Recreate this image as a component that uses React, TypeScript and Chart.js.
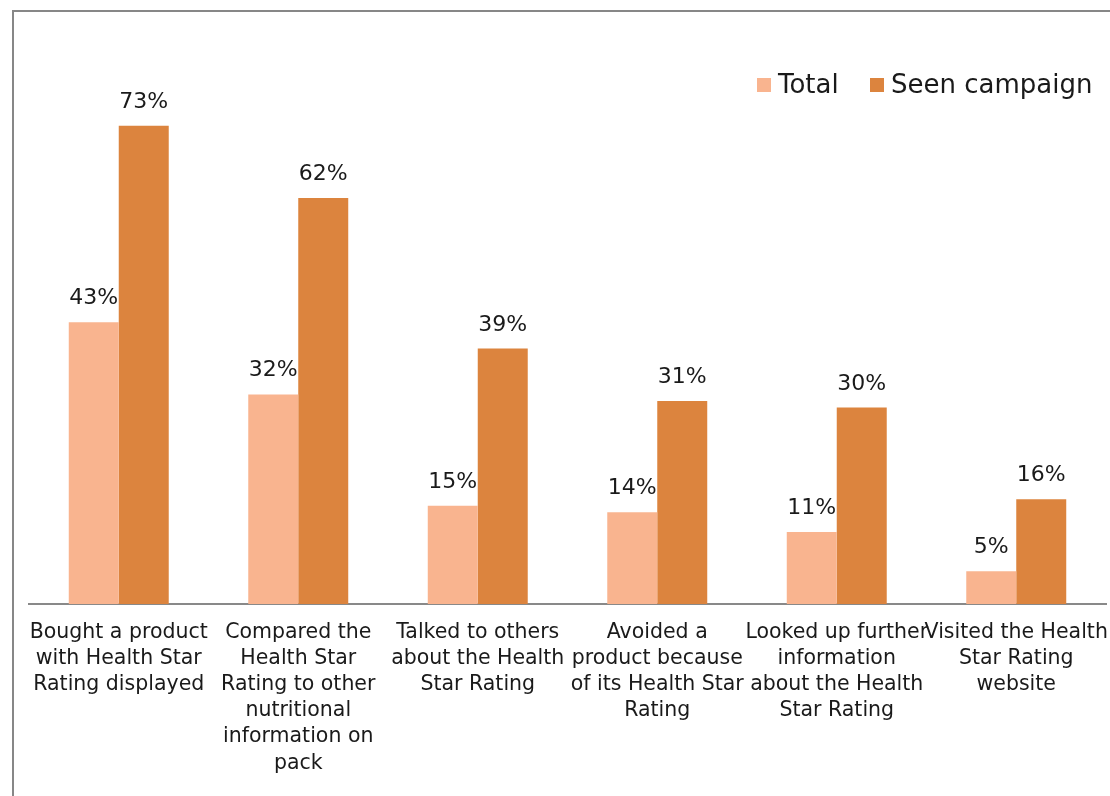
import React, { useEffect, useRef } from "react";
import { Chart, registerables } from "chart.js";

Chart.register(...registerables);

const categories: string[][] = [
  ["Bought a product", "with Health Star", "Rating displayed"],
  ["Compared the", "Health Star", "Rating to other", "nutritional", "information on", "pack"],
  ["Talked to others", "about the Health", "Star Rating"],
  ["Avoided a", "product because", "of its Health Star", "Rating"],
  ["Looked up further", "information", "about the Health", "Star Rating"],
  ["Visited the Health", "Star Rating", "website"],
];
const totalValues = [43, 32, 15, 14, 11, 5];
const seenValues = [73, 62, 39, 31, 30, 16];
const seriesNames = ["Total", "Seen campaign"];
const seriesColors = ["#F9B48F", "#DC843E"];

const FONT = "'DejaVu Sans', sans-serif";

const decorPlugin = {
  id: "decor",
  beforeDraw(chart: any) {
    const ctx = chart.ctx;
    ctx.save();
    ctx.fillStyle = "#ffffff";
    ctx.fillRect(0, 0, chart.width, chart.height);
    ctx.strokeStyle = "#878787";
    ctx.lineWidth = 2;
    ctx.beginPath();
    ctx.moveTo(13, chart.height);
    ctx.lineTo(13, 11);
    ctx.lineTo(chart.width, 11);
    ctx.stroke();
    ctx.restore();
  },
  afterDatasetsDraw(chart: any) {
    const ctx = chart.ctx;
    ctx.save();
    ctx.font = `22px ${FONT}`;
    ctx.fillStyle = "#1a1a1a";
    ctx.textAlign = "center";
    ctx.textBaseline = "alphabetic";
    chart.data.datasets.forEach((ds: any, di: number) => {
      const meta = chart.getDatasetMeta(di);
      meta.data.forEach((el: any, i: number) => {
        ctx.fillText(`${ds.data[i]}%`, el.x, el.y - 18);
      });
    });
    // legend
    ctx.font = `26px ${FONT}`;
    ctx.textAlign = "left";
    ctx.textBaseline = "middle";
    const legendY = 85;
    const items = [
      { x: 757, tx: 778 },
      { x: 870, tx: 891 },
    ];
    chart.data.datasets.forEach((ds: any, di: number) => {
      const it = items[di];
      ctx.fillStyle = ds.backgroundColor;
      ctx.fillRect(it.x, legendY - 7, 14, 14);
      ctx.fillStyle = "#1a1a1a";
      ctx.fillText(ds.label, it.tx, legendY + 1);
    });
    ctx.restore();
  },
};

export default function App() {
  const ref = useRef<HTMLCanvasElement>(null);
  useEffect(() => {
    if (!ref.current) return;
    const chart = new Chart(ref.current, {
      type: "bar",
      data: {
        labels: categories,
        datasets: [
          { label: seriesNames[0], data: totalValues, backgroundColor: seriesColors[0] },
          { label: seriesNames[1], data: seenValues, backgroundColor: seriesColors[1] },
        ],
      },
      options: {
        animation: false,
        responsive: false,
        maintainAspectRatio: false,
        layout: { padding: { left: 29, right: 4, top: 80, bottom: 0 } },
        datasets: { bar: { categoryPercentage: 0.557, barPercentage: 1.0 } },
        plugins: { legend: { display: false }, tooltip: { enabled: false } },
        scales: {
          x: {
            grid: { display: false, drawTicks: false },
            border: { display: true, color: "#898989", width: 2 },
            ticks: {
              color: "#1a1a1a",
              font: { family: FONT, size: 20.5, lineHeight: 1.27 },
              padding: 16,
              maxRotation: 0,
              minRotation: 0,
              autoSkip: false,
            },
            afterFit: (scale: any) => {
              scale.height = 192;
              scale.paddingLeft = 0;
              scale.paddingRight = 0;
            },
          },
          y: {
            display: false,
            min: 0,
            max: 80,
          },
        },
      },
      plugins: [decorPlugin],
    });
    return () => chart.destroy();
  }, []);
  return (
    <div style={{ position: "absolute", left: 0, top: 0, width: 1110, height: 796 }}>
      <canvas ref={ref} width={1110} height={796} style={{ display: "block" }} />
    </div>
  );
}
